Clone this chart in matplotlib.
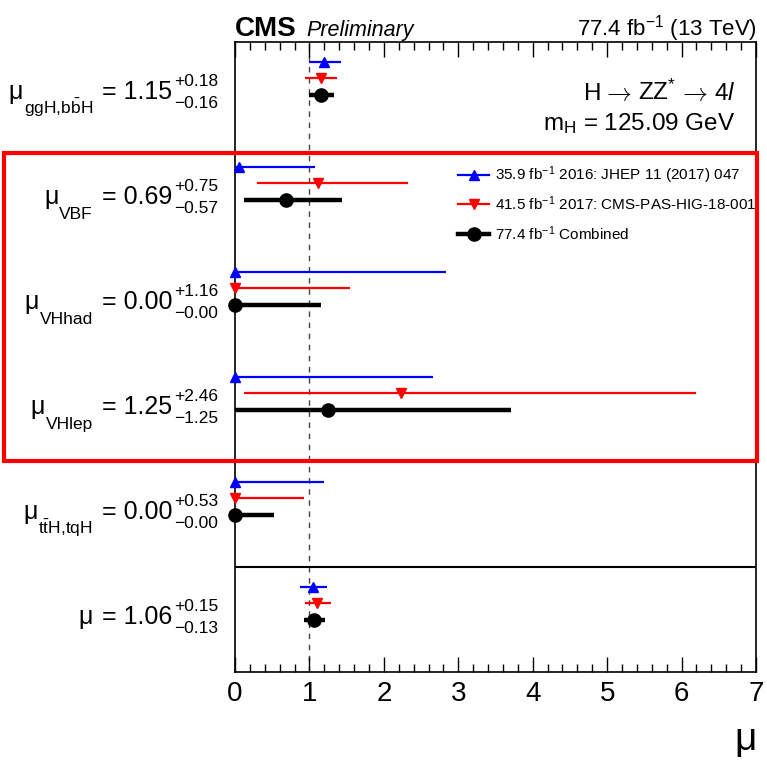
import matplotlib
matplotlib.use("Agg")
import matplotlib.pyplot as plt
from matplotlib.lines import Line2D
from matplotlib.patches import Rectangle
from matplotlib.transforms import blended_transform_factory, ScaledTranslation
from matplotlib.ticker import MultipleLocator

plt.rcParams["font.family"] = ["Liberation Sans", "DejaVu Sans"]
plt.rcParams["mathtext.fontset"] = "custom"
plt.rcParams["mathtext.rm"] = "Liberation Sans"
plt.rcParams["mathtext.it"] = "Liberation Sans:italic"
plt.rcParams["mathtext.bf"] = "Liberation Sans:bold"

# ---- signal strength modifiers (top to bottom) ----
categories = ["ggH,bbH", "VBF", "VHhad", "VHlep", "ttH,tqH", "inclusive"]
sub_labels = [r"ggH,b$\bar{\mathrm{b}}$H", "VBF", "VHhad", "VHlep",
              r"t$\bar{\mathrm{t}}$H,tqH", ""]

# combined 77.4 fb-1
comb_val = [1.15, 0.69, 0.00, 1.25, 0.00, 1.06]
comb_up = [0.18, 0.75, 1.16, 2.46, 0.53, 0.15]
comb_dn = [0.16, 0.57, 0.00, 1.25, 0.00, 0.13]

# 2016, 35.9 fb-1
r16_val = [1.20, 0.05, 0.00, 0.00, 0.00, 1.05]
r16_up = [0.22, 1.03, 2.83, 2.66, 1.19, 0.19]
r16_dn = [0.21, 0.05, 0.00, 0.00, 0.00, 0.17]

# 2017, 41.5 fb-1
r17_val = [1.15, 1.12, 0.00, 2.23, 0.00, 1.10]
r17_up = [0.22, 1.20, 1.54, 3.96, 0.93, 0.19]
r17_dn = [0.21, 0.82, 0.00, 2.11, 0.00, 0.16]

legend_labels = [r"35.9 fb$^{-1}$ 2016: JHEP 11 (2017) 047",
                 r"41.5 fb$^{-1}$ 2017: CMS-PAS-HIG-18-001",
                 r"77.4 fb$^{-1}$ Combined"]

W, H, DPI = 767, 760, 100
fig = plt.figure(figsize=(W / DPI, H / DPI), dpi=DPI)
ax = fig.add_axes([235 / W, 1 - 672 / H, (756 - 235) / W, (672 - 42) / H])
renderer = fig.canvas.get_renderer()

n = len(categories)
ypos = [n - i for i in range(n)]
off16, off17 = 0.305, 0.155

series = [
    (r16_val, r16_dn, r16_up, off16, "#0000ff", "^", 6.5, 1.6),
    (r17_val, r17_dn, r17_up, off17, "#ff0000", "v", 6.5, 1.6),
    (comb_val, comb_dn, comb_up, 0.0, "black", "o", 9.5, 3.2),
]
for vals, dn, up, off, col, mk, ms, lw in series:
    cont = ax.errorbar(vals, [y + off for y in ypos], xerr=[dn, up],
                       fmt=mk, color=col, ms=ms, elinewidth=lw,
                       capsize=0, zorder=3)
    for art in cont.get_children():
        art.set_clip_on(False)

ax.axvline(1.0, color="#444444", lw=1.0, ls=(0, (4, 4)), zorder=1)
ax.axhline(1.5, color="black", lw=1.5, zorder=1)

ax.set_xlim(0, 7)
ax.set_ylim(0.5, n + 0.5)
ax.set_yticks([])
ax.xaxis.set_major_locator(MultipleLocator(1))
ax.xaxis.set_minor_locator(MultipleLocator(0.2))
ax.tick_params(axis="x", which="both", direction="in", top=True, bottom=True,
               labelsize=20, pad=6.5, width=1.0)
ax.tick_params(axis="x", which="major", length=11)
ax.tick_params(axis="x", which="minor", length=5.5)
for sp in ax.spines.values():
    sp.set_linewidth(1.2)

# ---- row labels to the left of the frame ----
row_tr = blended_transform_factory(fig.transFigure, ax.transData)


def put(xpx, yval, dypx, s, **kw):
    tr = row_tr + ScaledTranslation(0, -dypx / DPI, fig.dpi_scale_trans)
    return fig.text(xpx / W, yval, s, transform=tr, va="baseline", **kw)


MAIN, SCRIPT = 18, 12.5
for i in range(n):
    y = ypos[i]
    base = 4.5
    mu_right = 93
    if sub_labels[i]:
        t = put(93, y, base + 15, sub_labels[i], fontsize=SCRIPT, ha="right")
        mu_right = t.get_window_extent(renderer).x0 - 1
    put(mu_right, y, base, "\u03bc", fontsize=MAIN, ha="right")
    put(172, y, base, f"= {comb_val[i]:.2f}", fontsize=MAIN, ha="right")
    put(174, y, base - 13, f"+{comb_up[i]:.2f}", fontsize=SCRIPT, ha="left")
    put(174, y, base + 9, f"\u2212{comb_dn[i]:.2f}", fontsize=SCRIPT, ha="left")

# ---- legend ----
leg_style = [("#0000ff", "^", 6.5, 1.6), ("#ff0000", "v", 6.5, 1.6),
             ("black", "o", 9.5, 3.2)]
leg_rows = [175, 204, 234]
for (col, mk, ms, lw), lab, ry in zip(leg_style, legend_labels, leg_rows):
    fy = 1 - ry / H
    fig.add_artist(Line2D([458 / W, 489 / W], [fy, fy], color=col, lw=lw,
                          transform=fig.transFigure))
    fig.add_artist(Line2D([473.5 / W], [fy], color=col, marker=mk, ms=ms,
                          transform=fig.transFigure))
    fig.text(495 / W, fy, lab, fontsize=11, ha="left", va="center")

# ---- header and annotations ----
fig.text(235 / W, 1 - 36 / H, "CMS", fontsize=20, fontweight="bold",
         ha="left", va="baseline")
fig.text(306 / W, 1 - 36 / H, "Preliminary", fontsize=15.5, style="italic",
         ha="left", va="baseline")
fig.text(757 / W, 1 - 36 / H, r"77.4 fb$^{-1}$ (13 TeV)", fontsize=16,
         ha="right", va="baseline")

# decay chain, laid out right to left so the thin arrows keep their spacing
decay_parts = [(r"4$\mathit{l}$", 17.5, "custom", 6),
               (r"$\rightarrow$", 18, "cm", 1),
               (r"ZZ$^{*}$", 17.5, "custom", 6),
               (r"$\rightarrow$", 18, "cm", 1),
               ("H", 17.5, "custom", 0)]
xr = 735
for s, fs, mfam, gap in decay_parts:
    t = fig.text(xr / W, 1 - 100 / H, s, fontsize=fs, math_fontfamily=mfam,
                 ha="right", va="baseline")
    xr = t.get_window_extent(renderer).x0 - gap

fig.text(735 / W, 1 - 130 / H, r"m$_{\mathrm{H}}$ = 125.09 GeV",
         fontsize=17.5, ha="right", va="baseline")
fig.text(757 / W, 1 - 750 / H, "\u03bc", fontsize=28, ha="right",
         va="baseline")

fig.add_artist(Rectangle((4 / W, 1 - 461 / H), (757 - 4) / W, (461 - 153) / H,
                         transform=fig.transFigure, fill=False,
                         edgecolor="#ff0000", lw=3))

fig.savefig("out.png", dpi=DPI)
